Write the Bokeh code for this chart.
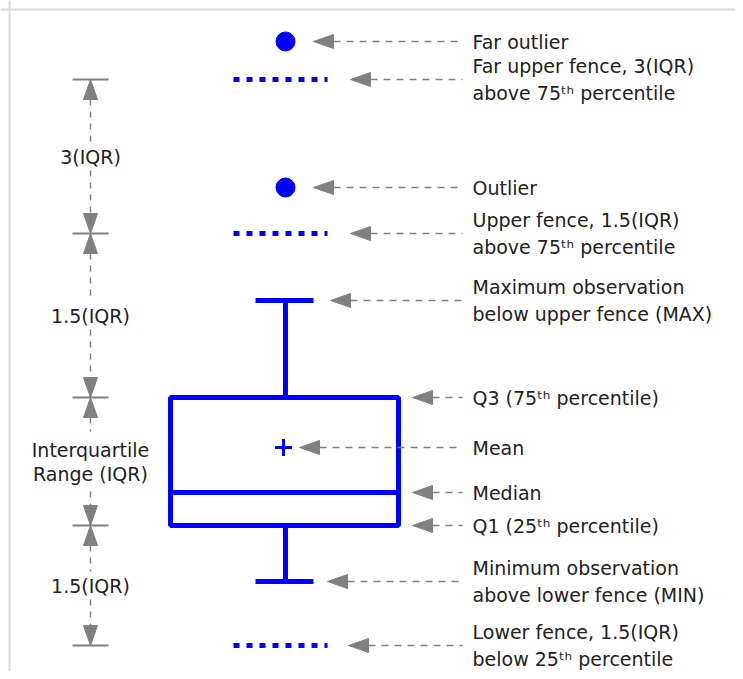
from bokeh.plotting import figure
from bokeh.models import Range1d, Span
from bokeh.core.properties import value
from bokeh.embed import file_html
from bokeh.resources import INLINE

# ---- data: vertical level of each box-plot feature (diagram scale, top = small) ----
far_outlier = 41
far_upper_fence = 79
outlier = 187
upper_fence = 233
maximum = 300
q3 = 397
mean = 447
median = 492
q1 = 525
minimum = 581
lower_fence = 645

# right-hand call-outs
callout_text = [
    ["Far outlier"],
    ["Far upper fence, 3(IQR)", "above 75ᵗʰ percentile"],
    ["Outlier"],
    ["Upper fence, 1.5(IQR)", "above 75ᵗʰ percentile"],
    ["Maximum observation", "below upper fence (MAX)"],
    ["Q3 (75ᵗʰ percentile)"],
    ["Mean"],
    ["Median"],
    ["Q1 (25ᵗʰ percentile)"],
    ["Minimum observation", "above lower fence (MIN)"],
    ["Lower fence, 1.5(IQR)", "below 25ᵗʰ percentile"],
]
callout_level = [far_outlier, far_upper_fence, outlier, upper_fence, maximum,
                 q3, mean, median, q1, minimum, lower_fence]

# left-hand range brackets
bracket_levels = [far_upper_fence, upper_fence, q3, q1, lower_fence]
bracket_labels = [["3(IQR)"], ["1.5(IQR)"], ["Interquartile", "Range (IQR)"], ["1.5(IQR)"]]

# ---- layout / style ----
BLUE = "#0000FF"
GRAY = "#808080"
TXT = "#222222"
FONT = value("DejaVu Sans")
FS = "19px"

cx = 285
box_l, box_r = 170, 398
cap_l, cap_r = 255, 313
fence_l, fence_r = 233, 327
text_x = 472
dash_end = 462
callout_tip_x = [313, 350, 313, 350, 330, 412, 299, 412, 412, 327, 348]
head_len, head_half = 20, 7
bx = 90
bcap_half = 18

p = figure(width=735, height=671, x_range=Range1d(0, 735), y_range=Range1d(671, 0),
           output_backend="svg", toolbar_location=None, min_border=0,
           x_axis_type=None, y_axis_type=None)
p.grid.visible = False
p.outline_line_color = None
p.background_fill_color = "white"
p.border_fill_color = "white"

# frame border (top and left visible)
p.add_layout(Span(location=9, dimension="width", line_color="#d9d9d9", line_width=2))
p.add_layout(Span(location=9, dimension="height", line_color="#d9d9d9", line_width=2))

# ---- box plot ----
p.quad(left=[box_l], right=[box_r], top=[q3], bottom=[q1], fill_color=None,
       line_color=BLUE, line_width=5)
p.segment(x0=[box_l], x1=[box_r], y0=[median], y1=[median], line_color=BLUE, line_width=5)
p.segment(x0=[cx, cx], x1=[cx, cx], y0=[maximum, q1], y1=[q3, minimum],
          line_color=BLUE, line_width=5)
p.segment(x0=[cap_l] * 2, x1=[cap_r] * 2, y0=[maximum, minimum],
          y1=[maximum, minimum], line_color=BLUE, line_width=5)
fences = [far_upper_fence, upper_fence, lower_fence]
p.segment(x0=[fence_l] * 3, x1=[fence_r] * 3, y0=fences, y1=fences,
          line_color=BLUE, line_width=5, line_dash="6 7", line_cap="butt")
p.scatter(x=[cx, cx], y=[far_outlier, outlier], size=19, marker="circle",
          fill_color=BLUE, line_color=BLUE)
p.scatter(x=[cx - 2], y=[mean], size=17, marker="cross", line_color=BLUE, line_width=3)

# ---- right call-outs ----
xs, ys = [], []
for tip, lv in zip(callout_tip_x, callout_level):
    xs.append([tip, tip + head_len, tip + head_len])
    ys.append([lv, lv - head_half, lv + head_half])
p.patches(xs=xs, ys=ys, fill_color=GRAY, line_color=GRAY, line_width=1)
p.segment(x0=[t + head_len for t in callout_tip_x], x1=[dash_end] * len(callout_tip_x),
          y0=callout_level, y1=callout_level, line_color=GRAY, line_width=1.5,
          line_dash="7 6")

tx, ty, tt = [], [], []
for lines, lv in zip(callout_text, callout_level):
    n = len(lines)
    for i, s in enumerate(lines):
        tx.append(text_x)
        ty.append(lv + (i - (n - 1) / 2) * 27)
        tt.append(s)
p.text(x=tx, y=ty, text=tt, text_font=FONT, text_font_size=FS, text_color=TXT,
       text_align="left", text_baseline="middle")

# ---- left brackets ----
p.segment(x0=[bx - bcap_half] * len(bracket_levels), x1=[bx + bcap_half] * len(bracket_levels),
          y0=bracket_levels, y1=bracket_levels, line_color=GRAY, line_width=2)
axs, ays = [], []
d0, d1 = [], []
lx, ly, lt = [], [], []
for i, lines in enumerate(bracket_labels):
    top, bot = bracket_levels[i], bracket_levels[i + 1]
    axs += [[bx, bx - head_half, bx + head_half], [bx, bx - head_half, bx + head_half]]
    ays += [[top, top + head_len, top + head_len], [bot, bot - head_len, bot - head_len]]
    mid = (top + bot) / 2
    n = len(lines)
    gap = 14 if n == 1 else 30
    d0 += [top + head_len, mid + gap]
    d1 += [mid - gap, bot - head_len]
    for j, s in enumerate(lines):
        lx.append(bx)
        ly.append(mid + (j - (n - 1) / 2) * 24)
        lt.append(s)
p.patches(xs=axs, ys=ays, fill_color=GRAY, line_color=GRAY, line_width=1)
p.segment(x0=[bx] * len(d0), x1=[bx] * len(d0), y0=d0, y1=d1, line_color=GRAY,
          line_width=1.5, line_dash="6 6")
p.text(x=lx, y=ly, text=lt, text_font=FONT, text_font_size=FS, text_color=TXT,
       text_align="center", text_baseline="middle")

open("out.html", "w").write(file_html(p, INLINE))
